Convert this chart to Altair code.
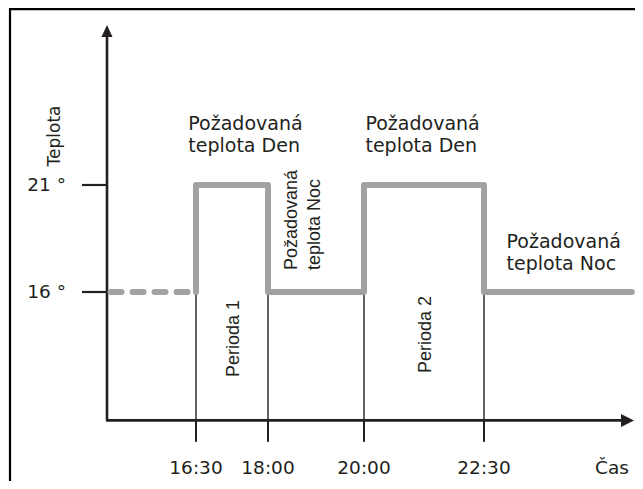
import altair as alt
import pandas as pd

# ---- data (hours on x, degrees on y) ----
times = [16.5, 18.0, 20.0, 22.5]
time_labels = ["16:30", "18:00", "20:00", "22:30"]
temps = [16, 21]
temp_labels = ["16 °", "21 °"]

step_t = [16.5, 16.5, 18.0, 18.0, 20.0, 20.0, 22.5, 22.5, 25.58]
step_T = [16, 21, 21, 16, 16, 21, 21, 16, 16]
dash_t = [14.72, 16.5]
dash_T = [16, 16]

# annotation texts (horizontal)
note_text = ["Požadovaná", "teplota Den", "Požadovaná", "teplota Den", "Požadovaná", "teplota Noc"]
note_t = [16.34, 16.34, 20.03, 20.03, 22.97, 22.97]
note_T = [23.57, 22.54, 23.57, 22.54, 18.06, 17.03]

# rotated annotation texts
rot_text = ["Požadovaná", "teplota Noc"]
rot_t = [18.60, 19.09]
rot_T = [17.03, 17.03]
per_text = ["Perioda 1", "Perioda 2"]
per_t = [17.40, 21.40]
per_T = [13.83, 14.01]

# axis geometry in data units
y_axis_t = 14.646
x_axis_T = 10
x_end = 25.49
y_end = 28.2
tick_len_t = 14.125
tick_bottom_T = 9
label_T = 7.5
ylab_t = 13.79

XMIN, XMAX = 12.5833, 25.6458
YMIN, YMAX = 7.168, 29.271

INK = "#231f20"
GRAY = "#a2a2a5"
GEO = "DejaVu Sans"
ARIAL = "Liberation Sans"

XS = alt.Scale(domain=[XMIN, XMAX], nice=False, zero=False)
YS = alt.Scale(domain=[YMIN, YMAX], nice=False, zero=False)


def X(f="t"):
    return alt.X(f, type="quantitative", scale=XS, axis=None)


def Y(f="T"):
    return alt.Y(f, type="quantitative", scale=YS, axis=None)


layers = []

# frame (top and left)
layers.append(alt.Chart(pd.DataFrame({"t": [12.625], "t2": [XMAX], "T": [29.22]}))
              .mark_rule(color="black", strokeWidth=2.2)
              .encode(x=X(), x2="t2", y=Y()))
layers.append(alt.Chart(pd.DataFrame({"t": [12.625], "T": [YMIN], "T2": [YMAX]}))
              .mark_rule(color="black", strokeWidth=2.2)
              .encode(x=X(), y=Y(), y2="T2"))

# axis lines
layers.append(alt.Chart(pd.DataFrame({"t": [y_axis_t], "T": [x_axis_T], "T2": [y_end]}))
              .mark_rule(color=INK, strokeWidth=2.6)
              .encode(x=X(), y=Y(), y2="T2"))
layers.append(alt.Chart(pd.DataFrame({"t": [y_axis_t - 0.02], "t2": [x_end], "T": [x_axis_T]}))
              .mark_rule(color=INK, strokeWidth=2.6)
              .encode(x=X(), x2="t2", y=Y()))

# arrow heads
layers.append(alt.Chart(pd.DataFrame({"t": [y_axis_t], "T": [y_end]}))
              .mark_point(shape="M0,-1L0.92,1L-0.92,1Z", size=144, filled=True,
                          color=INK, opacity=1, strokeWidth=0)
              .encode(x=X(), y=Y()))
layers.append(alt.Chart(pd.DataFrame({"t": [x_end], "T": [x_axis_T]}))
              .mark_point(shape="M1,0L-1,-1L-1,1Z", size=169, filled=True,
                          color=INK, opacity=1, strokeWidth=0)
              .encode(x=X(), y=Y()))

# y ticks
layers.append(alt.Chart(pd.DataFrame({"t": [tick_len_t] * 2, "t2": [y_axis_t] * 2, "T": temps}))
              .mark_rule(color=INK, strokeWidth=2.2)
              .encode(x=X(), x2="t2", y=Y()))

# x ticks (below axis) and thin guide lines (above axis)
layers.append(alt.Chart(pd.DataFrame({"t": times, "T": [tick_bottom_T] * 4, "T2": [x_axis_T] * 4}))
              .mark_rule(color=INK, strokeWidth=2)
              .encode(x=X(), y=Y(), y2="T2"))
layers.append(alt.Chart(pd.DataFrame({"t": times, "T": [x_axis_T] * 4, "T2": [16] * 4}))
              .mark_rule(color=INK, strokeWidth=1.4)
              .encode(x=X(), y=Y(), y2="T2"))

# dashed start and step line
layers.append(alt.Chart(pd.DataFrame({"t": dash_t, "T": dash_T}))
              .mark_line(color=GRAY, strokeWidth=6, strokeDash=[11, 11], strokeCap="round")
              .encode(x=X(), y=Y()))
layers.append(alt.Chart(pd.DataFrame({"t": step_t, "T": step_T, "i": list(range(len(step_t)))}))
              .mark_line(color=GRAY, strokeWidth=6, strokeJoin="round", strokeCap="round")
              .encode(x=X(), y=Y(), order=alt.Order("i:Q")))

# tick labels
layers.append(alt.Chart(pd.DataFrame({"t": times, "T": [label_T] * 4, "label": time_labels}))
              .mark_text(font=GEO, fontSize=18.5, color=INK, align="center", baseline="alphabetic")
              .encode(x=X(), y=Y(), text="label:N"))
layers.append(alt.Chart(pd.DataFrame({"t": [25.167], "T": [label_T], "label": ["Čas"]}))
              .mark_text(font=GEO, fontSize=18.5, color=INK, align="center", baseline="alphabetic")
              .encode(x=X(), y=Y(), text="label:N"))
layers.append(alt.Chart(pd.DataFrame({"t": [ylab_t] * 2, "T": temps, "label": temp_labels}))
              .mark_text(font=GEO, fontSize=18.5, color=INK, align="right", baseline="middle")
              .encode(x=X(), y=Y(), text="label:N"))
layers.append(alt.Chart(pd.DataFrame({"t": [13.667], "T": [23.29], "label": ["Teplota"]}))
              .mark_text(font=GEO, fontSize=17, color=INK, align="center", baseline="alphabetic", angle=270)
              .encode(x=X(), y=Y(), text="label:N"))

# annotations
layers.append(alt.Chart(pd.DataFrame({"t": note_t, "T": note_T, "label": note_text}))
              .mark_text(font=GEO, fontSize=19, color=INK, align="left", baseline="alphabetic")
              .encode(x=X(), y=Y(), text="label:N"))
layers.append(alt.Chart(pd.DataFrame({"t": rot_t, "T": rot_T, "label": rot_text}))
              .mark_text(font=ARIAL, fontSize=18, color=INK, align="left", baseline="alphabetic", angle=270)
              .encode(x=X(), y=Y(), text="label:N"))
layers.append(alt.Chart(pd.DataFrame({"t": per_t, "T": per_T, "label": per_text}))
              .mark_text(font=ARIAL, fontSize=18, color=INK, align="center", baseline="alphabetic", angle=270)
              .encode(x=X(), y=Y(), text="label:N"))

chart = alt.layer(*layers).properties(
    width=627, height=473, padding=0, autosize="none", background="white"
).configure_view(stroke=None)

chart.save("out.html", embed_options={"renderer": "svg", "actions": False})
